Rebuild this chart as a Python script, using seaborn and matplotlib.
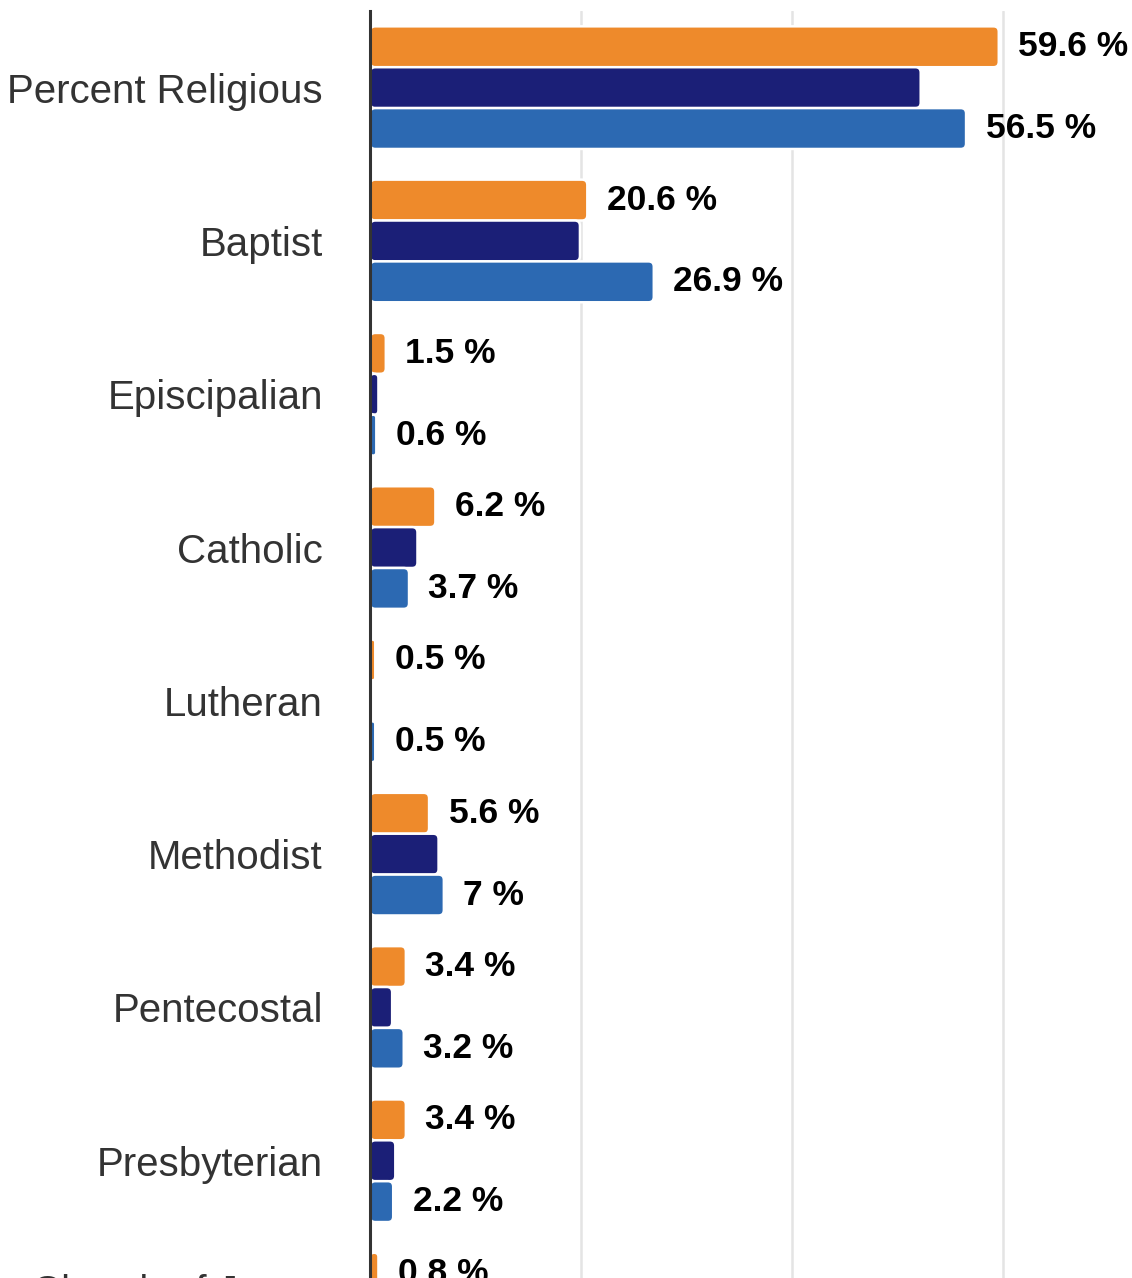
import matplotlib
matplotlib.use("Agg")
import matplotlib.pyplot as plt
from matplotlib.patches import FancyBboxPatch
import textwrap
import numpy as np
import pandas as pd
import seaborn as sns

# ---------------- data ----------------
categories = ["Percent Religious", "Baptist", "Episcipalian", "Catholic", "Lutheran",
              "Methodist", "Pentecostal", "Presbyterian", "Church of Jesus Christ"]
series_names = ["County", "Region", "State"]
orange_values = [59.6, 20.6, 1.5, 6.2, 0.5, 5.6, 3.4, 3.4, 0.8]
navy_values = [52.2, 19.9, 0.8, 4.5, 0.0, 6.5, 2.1, 2.4, 1.0]
blue_values = [56.5, 26.9, 0.6, 3.7, 0.5, 7.0, 3.2, 2.2, 1.2]
series_colors = ["#EE8A2B", "#1B1F77", "#2C69B2"]
x_ticks = [0, 20, 40, 60]
labelled_series = [0, 2]

df = pd.DataFrame({
    "Denomination": categories * 3,
    "Percent": orange_values + navy_values + blue_values,
    "Series": [series_names[0]] * len(categories)
              + [series_names[1]] * len(categories)
              + [series_names[2]] * len(categories),
})

# ---------------- figure ----------------
sns.set_theme(style="white")
plt.rcParams["font.family"] = ["Liberation Sans", "DejaVu Sans"]

W, H = 1132, 1278
fig = plt.figure(figsize=(W / 100, H / 100), dpi=100)
fig.patch.set_facecolor("white")

left_px = 370
top_px = 11
cat_px = 153.3
ax_h_px = cat_px * len(categories)
ax = fig.add_axes([left_px / W, 1 - (top_px + ax_h_px) / H,
                   1 - left_px / W, ax_h_px / H])

sns.barplot(data=df, y="Denomination", x="Percent", hue="Series",
            order=categories, hue_order=series_names, palette=series_colors,
            orient="h", width=0.8, saturation=1, errorbar=None,
            edgecolor="white", linewidth=1.8, legend=False, ax=ax)

x_max = (W - left_px) / 10.55
ax.set_xlim(0, x_max)
ax.set_ylim(len(categories) - 0.5, -0.5)
ax.set_xticks(x_ticks)
ax.grid(axis="x", color="#e4e4e4", linewidth=1.8)
ax.grid(axis="y", visible=False)
ax.set_axisbelow(True)

ax.set_xlabel("")
ax.set_ylabel("")
ax.set_yticks(range(len(categories)))
ax.set_yticklabels([textwrap.fill(c, 17) for c in categories],
                   fontsize=29, color="#333333", linespacing=1.15)
for lab in ax.get_yticklabels():
    if "\n" in lab.get_text():
        lab.set_verticalalignment("center")
ax.tick_params(axis="y", length=0, pad=34)
ax.tick_params(axis="x", length=0, labelsize=1)

for side in ["top", "right", "bottom"]:
    ax.spines[side].set_visible(False)
ax.spines["left"].set_color("#333333")
ax.spines["left"].set_linewidth(2.2)
ax.spines["left"].set_zorder(5)

# value labels
for i in labelled_series:
    cont = ax.containers[i]
    ax.bar_label(cont, labels=[f"{v:g} %" for v in cont.datavalues],
                 padding=14, fontsize=25.5, fontweight="bold", color="black")

# rounded bar ends (same geometry as seaborn's bars)
aspect = ((len(categories)) / ax_h_px) / (x_max / (W - left_px))
for cont in ax.containers:
    for rect in cont.patches:
        x0, y0 = rect.get_xy()
        w, h = rect.get_width(), rect.get_height()
        rect.set_visible(False)
        if w <= 0:
            continue
        r = min(0.5, w / 2)
        fb = FancyBboxPatch((x0, y0), w, h,
                            boxstyle=f"round,pad=0,rounding_size={r}",
                            mutation_aspect=aspect,
                            facecolor=rect.get_facecolor(),
                            edgecolor="white", linewidth=1.8, zorder=2)
        ax.add_patch(fb)

fig.savefig("out.png", dpi=100)
